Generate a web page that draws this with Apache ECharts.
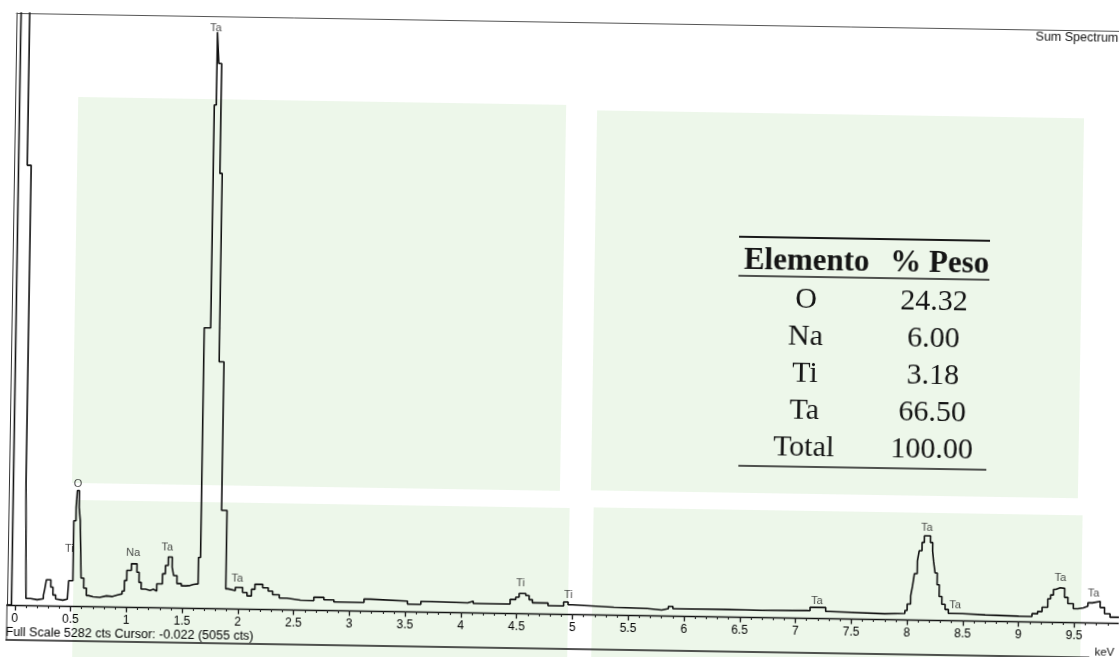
<!DOCTYPE html>
<html>
<head>
<meta charset="utf-8">
<script src="https://cdn.jsdelivr.net/npm/echarts@6/dist/echarts.min.js"></script>
<style>
  html, body { margin: 0; padding: 0; background: #ffffff; overflow: hidden; }
  #wrap { position: absolute; left: 0; top: 0; width: 1119px; height: 657px;
          transform: rotate(0.93deg); transform-origin: 14px 604.5px; }
  #chart { position: absolute; left: 0; top: 0; width: 1119px; height: 657px; }
</style>
</head>
<body>
<div id="wrap"><div id="chart"></div></div>
<script>
// ---------------- data ----------------
const fullScale = 5282;
const tickLabels = ['0','0.5','1','1.5','2','2.5','3','3.5','4','4.5','5','5.5','6','6.5','7','7.5','8','8.5','9','9.5'];

// [energy keV (start of step), counts]
const spectrum = [
  [-0.07, 0], [-0.03, 5055], [-0.015, 9000], [0.048, 3925], [0.083, 1095], [0.099, 60],
  [0.14, 50], [0.2, 60], [0.255, 90], [0.265, 140], [0.28, 230], [0.32, 165], [0.34, 95],
  [0.365, 60], [0.38, 50], [0.43, 60], [0.47, 75], [0.48, 225], [0.517, 760], [0.536, 880],
  [0.545, 1030], [0.563, 880], [0.575, 760], [0.59, 250], [0.615, 160], [0.64, 95], [0.66, 85],
  [0.70, 80], [0.76, 95], [0.82, 90], [0.87, 105], [0.92, 115], [0.96, 140], [0.98, 235],
  [1.0, 325], [1.04, 385], [1.09, 310], [1.11, 220], [1.13, 160], [1.17, 150], [1.21, 160],
  [1.24, 145], [1.27, 210], [1.32, 300], [1.345, 375], [1.37, 450], [1.405, 360], [1.42, 285],
  [1.45, 215], [1.49, 195], [1.53, 200], [1.57, 210], [1.60, 215], [1.64, 450], [1.658, 2500],
  [1.716, 4490], [1.734, 5140], [1.75, 4860], [1.776, 3880], [1.797, 2200], [1.84, 875],
  [1.889, 175], [1.91, 160], [1.975, 190], [2.04, 145], [2.08, 115], [2.12, 175], [2.15, 220],
  [2.22, 190], [2.27, 160], [2.31, 130], [2.37, 100], [2.44, 85], [2.56, 82], [2.68, 113],
  [2.77, 91], [2.86, 73], [3.13, 104], [3.19, 92], [3.52, 65], [3.64, 91], [3.73, 85],
  [4.06, 101], [4.11, 80], [4.44, 122], [4.49, 143], [4.52, 176], [4.58, 158], [4.61, 122],
  [4.64, 95], [4.78, 72], [4.92, 107], [4.96, 83], [5.0, 67], [5.37, 60], [5.67, 49],
  [5.8, 62], [5.86, 83], [5.9, 62], [6.08, 65], [6.4, 60], [6.7, 66], [7.1, 65],
  [7.13, 95], [7.27, 60], [7.31, 48], [7.8, 54], [7.98, 80], [8.0, 138], [8.03, 213],
  [8.045, 300], [8.06, 410], [8.085, 525], [8.1, 615], [8.125, 690], [8.145, 750],
  [8.2, 690], [8.22, 615], [8.23, 525], [8.245, 420], [8.265, 315], [8.285, 210],
  [8.31, 140], [8.34, 95], [8.37, 60], [8.5, 52], [8.7, 46], [9.0, 45], [9.12, 70],
  [9.17, 90], [9.21, 130], [9.26, 205], [9.285, 240], [9.31, 290], [9.33, 306], [9.37, 300],
  [9.41, 220], [9.44, 165], [9.49, 120], [9.53, 130], [9.58, 145], [9.62, 175], [9.66, 190],
  [9.73, 135], [9.77, 80], [9.82, 50], [9.9, 50]
];

const peakNames  = ['Ti', 'O', 'Na', 'Ta', 'Ta', 'Ta', 'Ti', 'Ti', 'Ta', 'Ta', 'Ta', 'Ta', 'Ta'];
const peakKeV    = [0.48, 0.55, 1.054, 1.358, 1.72, 1.99, 4.53, 4.96, 7.19, 8.165, 8.43, 9.37, 9.67];
const peakCounts = [506, 1086, 478, 536, 5177, 268, 265, 174, 156, 822, 132, 397, 259];

const tableHeader   = ['Elemento', '% Peso'];
const tableElements = ['O', 'Na', 'Ti', 'Ta', 'Total'];
const tableWeights  = ['24.32', '6.00', '3.18', '66.50', '100.00'];

const footerText = 'Full Scale 5282 cts Cursor: -0.022 (5055 cts)';
const titleText = 'Sum Spectrum';
const unitText = 'keV';

// ---------------- chart ----------------
const tickValues = tickLabels.map(Number);
const minorTicks = [];
for (let i = 0; i <= 99; i++) minorTicks.push(i / 10);

const chart = echarts.init(document.getElementById('chart'), null, { renderer: 'canvas' });

const graphics = [];
const green = '#edf7ea';
[[70, 96, 488, 386], [589, 101, 487, 380], [73, 499, 495, 200], [592, 498, 489, 200]].forEach(r => {
  graphics.push({ type: 'rect', z: -10, silent: true,
    shape: { x: r[0], y: r[1], width: r[2], height: r[3] }, style: { fill: green } });
});
// table
const tf = '"Liberation Serif", "Times New Roman", serif';
graphics.push({ type: 'line', z: 5, shape: { x1: 733, y1: 225, x2: 984, y2: 225 }, style: { stroke: '#1a1a1a', lineWidth: 2 } });
graphics.push({ type: 'line', z: 5, shape: { x1: 733, y1: 264, x2: 984, y2: 264 }, style: { stroke: '#1a1a1a', lineWidth: 1.5 } });
graphics.push({ type: 'line', z: 5, shape: { x1: 736, y1: 454, x2: 984, y2: 454 }, style: { stroke: '#1a1a1a', lineWidth: 1.5 } });
graphics.push({ type: 'text', z: 5, x: 801, y: 249, style: { text: tableHeader[0], font: 'bold 31px ' + tf, fill: '#151515', align: 'center', verticalAlign: 'middle' } });
graphics.push({ type: 'text', z: 5, x: 934, y: 249, style: { text: tableHeader[1], font: 'bold 31px ' + tf, fill: '#151515', align: 'center', verticalAlign: 'middle' } });
tableElements.forEach((el, i) => {
  const y = 287 + i * 37;
  graphics.push({ type: 'text', z: 5, x: 801, y: y, style: { text: el, font: '30px ' + tf, fill: '#151515', align: 'center', verticalAlign: 'middle' } });
  graphics.push({ type: 'text', z: 5, x: 929, y: y, style: { text: tableWeights[i], font: '30px ' + tf, fill: '#151515', align: 'center', verticalAlign: 'middle' } });
});
// texts and frame pieces
const sf = '"Liberation Sans", Arial, sans-serif';
graphics.push({ type: 'text', z: 5, x: 1109, y: 21, style: { text: titleText, font: '12.5px ' + sf, fill: '#111', align: 'right', verticalAlign: 'middle' } });
graphics.push({ type: 'text', z: 5, x: 6, y: 633, style: { text: footerText, font: '12.5px ' + sf, fill: '#000', align: 'left', verticalAlign: 'middle' } });
graphics.push({ type: 'text', z: 5, x: 1115, y: 635, style: { text: unitText, font: '11.5px ' + sf, fill: '#111', align: 'right', verticalAlign: 'middle' } });
graphics.push({ type: 'line', z: 5, shape: { x1: 6, y1: 640, x2: 1090, y2: 640 }, style: { stroke: '#1a1a1a', lineWidth: 1.6 } });
graphics.push({ type: 'line', z: 5, shape: { x1: 7, y1: 604, x2: 7, y2: 640 }, style: { stroke: '#333', lineWidth: 1 } });

const xMin = -0.07, xMax = 9.9;
const baseX = { type: 'value', min: xMin, max: xMax, splitLine: { show: false } };

chart.setOption({
  animation: false,
  backgroundColor: 'transparent',
  grid: { left: 7, right: 0, top: 13, bottom: 52, containLabel: false },
  xAxis: [
    Object.assign({}, baseX, {
      position: 'bottom',
      axisLine: { show: true, onZero: false, lineStyle: { color: '#111', width: 1.4 } },
      axisTick: { show: true, customValues: tickValues, length: 5.5, lineStyle: { color: '#111', width: 1.3 } },
      axisLabel: { customValues: tickValues, margin: 8,
        formatter: v => tickLabels[tickValues.indexOf(Math.round(v * 10) / 10)] || '',
        fontFamily: 'Liberation Sans', fontSize: 12, color: '#000' }
    }),
    Object.assign({}, baseX, {
      position: 'bottom',
      axisLine: { show: false, onZero: false },
      axisTick: { show: true, customValues: minorTicks, length: 3, lineStyle: { color: '#222', width: 1.1 } },
      axisLabel: { show: false }
    }),
    Object.assign({}, baseX, {
      position: 'top',
      axisLine: { show: true, onZero: false, lineStyle: { color: '#555', width: 1 } },
      axisTick: { show: false }, axisLabel: { show: false }
    })
  ],
  yAxis: {
    type: 'value', min: 0, max: fullScale,
    axisLine: { show: true, onZero: false, lineStyle: { color: '#333', width: 1 } },
    axisTick: { show: false }, axisLabel: { show: false }, splitLine: { show: false }
  },
  series: [
    {
      type: 'line', xAxisIndex: 0, step: 'end', data: spectrum, showSymbol: false,
      clip: true, silent: true, z: 3,
      lineStyle: { color: '#111', width: 1.6 }
    },
    {
      type: 'scatter', xAxisIndex: 0, silent: true, z: 4,
      symbolSize: 1, itemStyle: { color: 'rgba(0,0,0,0)' },
      data: peakNames.map((n, i) => ({ name: n, value: [peakKeV[i], peakCounts[i]] })),
      label: { show: true, position: 'inside', formatter: p => p.name,
        fontFamily: 'Liberation Sans', fontSize: 11, color: '#1a1a1a' }
    }
  ],
  graphic: graphics
});
</script>
</body>
</html>
